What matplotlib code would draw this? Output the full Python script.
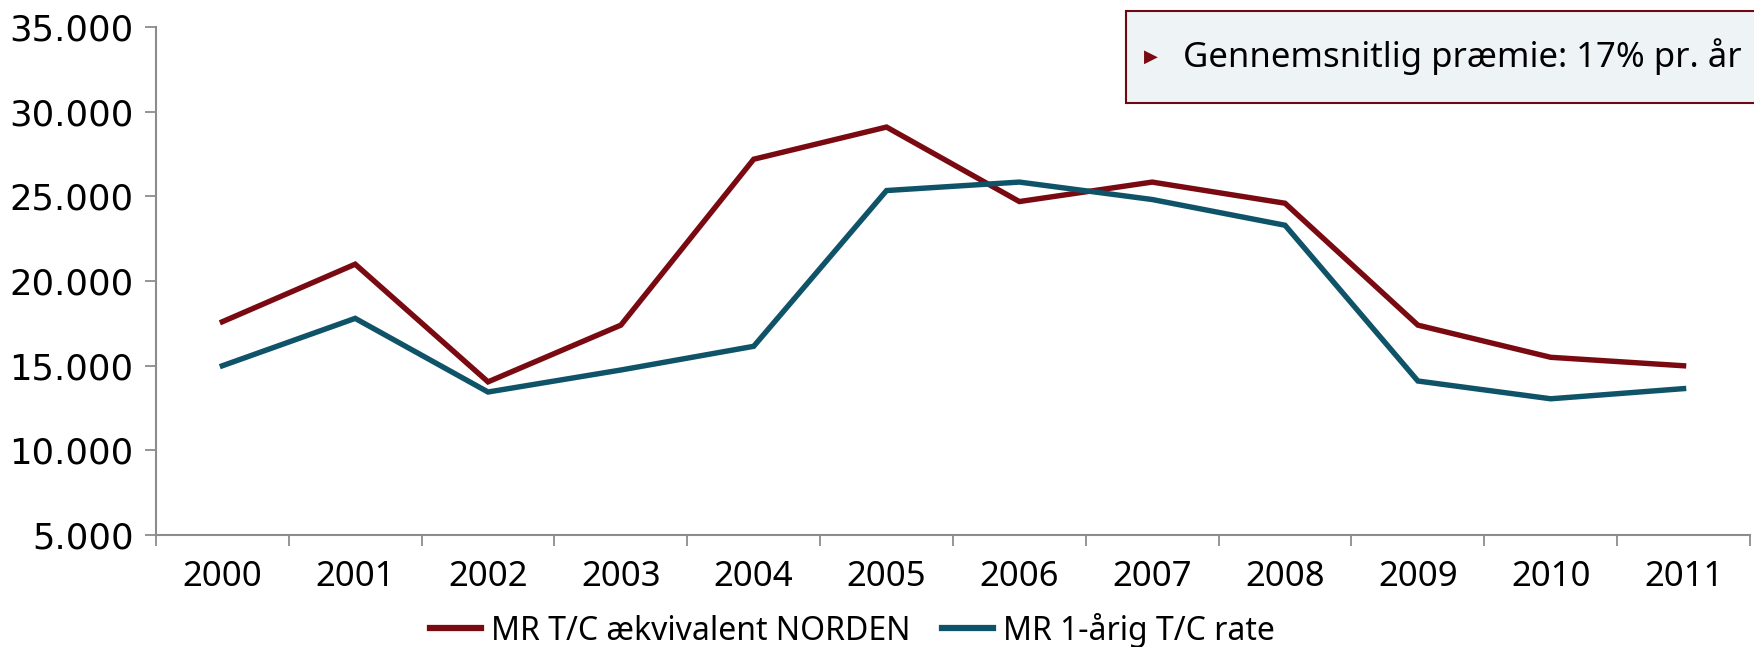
import matplotlib
matplotlib.use("Agg")
import matplotlib.pyplot as plt
from matplotlib.patches import Rectangle
from matplotlib.lines import Line2D

years = ["2000", "2001", "2002", "2003", "2004", "2005", "2006", "2007", "2008", "2009", "2010", "2011"]
norden = [17600, 21000, 14050, 17400, 27200, 29100, 24700, 25850, 24600, 17400, 15500, 15000]
one_year = [15000, 17800, 13450, 14750, 16150, 25350, 25850, 24820, 23300, 14100, 13050, 13650]
series_names = ["MR T/C ækvivalent NORDEN", "MR 1-årig T/C rate"]
note_text = "Gennemsnitlig præmie: 17% pr. år"
yticks = [5000, 10000, 15000, 20000, 25000, 30000, 35000]

red = "#7A0A12"
blue = "#0F5369"
axis_col = "#8C8C8C"
narrow = "Noto Sans"

fig = plt.figure(figsize=(17.54, 6.47), dpi=100)
ax = fig.add_axes([0.0889, 0.173, 0.9088, 0.785])

x = list(range(len(years)))
ax.plot(x, norden, color=red, lw=3.9, solid_joinstyle="miter", label=series_names[0])
ax.plot(x, one_year, color=blue, lw=3.9, solid_joinstyle="miter", label=series_names[1])

ax.set_xlim(-0.5, len(years) - 0.5)
ax.set_ylim(5000, 35000)
ax.set_yticks(yticks)
ax.set_yticklabels([f"{v:,}".replace(",", ".") for v in yticks], fontsize=25.5, family="DejaVu Sans")
ax.set_xticks(x)
ax.set_xticklabels(years, fontsize=25, family=narrow)
ax.set_xticks([i - 0.5 for i in range(len(years) + 1)], minor=True)
ax.tick_params(axis="x", which="major", length=0, pad=18)
ax.tick_params(axis="x", which="minor", length=8, color=axis_col, width=1.3)
ax.tick_params(axis="y", length=8, color=axis_col, width=1.3, pad=8)
for s in ["top", "right"]:
    ax.spines[s].set_visible(False)
for s in ["left", "bottom"]:
    ax.spines[s].set_color(axis_col)
    ax.spines[s].set_linewidth(1.5)

# note box
box = Rectangle((1126 / 1754, 1 - 103 / 647), 0.40, 92 / 647, transform=fig.transFigure,
                facecolor="#EEF3F6", edgecolor="#6B0A12", lw=1.5, zorder=5)
fig.patches.append(box)
fig.text(1151 / 1754, 1 - 57 / 647, "\u25B6", color=red, fontsize=13, va="center", ha="center",
         family="DejaVu Sans", zorder=6)
fig.text(1183 / 1754, 1 - 57 / 647, note_text, fontsize=25, va="center", ha="left",
         family=narrow, zorder=6)

handles = [Line2D([], [], color=red, lw=4.5), Line2D([], [], color=blue, lw=4.5)]
fig.legend(handles, series_names, loc="center", bbox_to_anchor=(0.486, 1 - 630 / 647),
           ncol=2, frameon=False, handlelength=1.6, handletextpad=0.3,
           columnspacing=1.0, prop={"family": narrow, "size": 23})

fig.savefig("out.png", dpi=100)
